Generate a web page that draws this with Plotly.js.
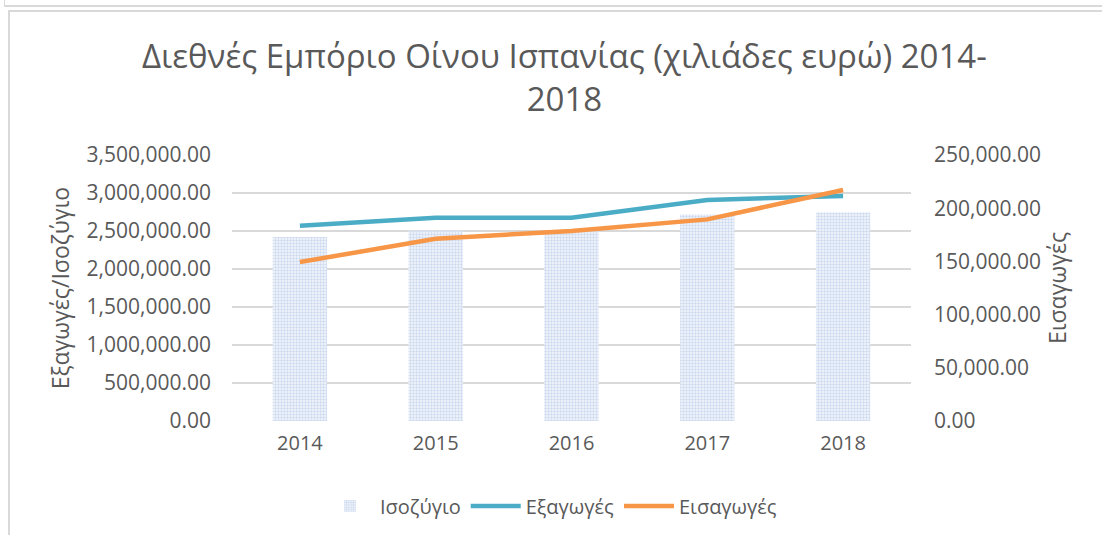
<!DOCTYPE html>
<html>
<head>
<meta charset="utf-8">
<script src="https://cdn.plot.ly/plotly-3.0.1.min.js"></script>
<style>
html,body{margin:0;padding:0;background:#fff;}
#wrap{position:relative;width:1102px;height:535px;overflow:hidden;}
#chart{position:absolute;left:0;top:0;width:1102px;height:535px;}
.b{position:absolute;pointer-events:none;}
</style>
</head>
<body>
<div id="wrap">
<div id="chart"></div>
<div class="b" style="left:4px;top:0px;width:1098px;height:5px;border-left:1px solid #d9d9d9;border-bottom:2px solid #d9d9d9;"></div>
<div class="b" style="left:8px;top:10px;width:1094px;height:525px;border-left:2px solid #d9d9d9;border-top:2px solid #d9d9d9;"></div>
</div>
<script>
const years = ['2014', '2015', '2016', '2017', '2018'];
const isozygio = [2421000, 2504000, 2496000, 2718000, 2744000];
const exagoges = [2570000, 2675000, 2675000, 2908000, 2961000];
const eisagoges = [149400, 171300, 178600, 189500, 217100];
const titleText = 'Διεθνές Εμπόριο Οίνου Ισπανίας (χιλιάδες ευρώ) 2014-<br>2018';

const FONT = 'Open Sans, Calibri, sans-serif';
const TXT = '#595959';

const traces = [
  {
    type: 'bar', name: 'Ισοζύγιο', x: years, y: isozygio, yaxis: 'y',
    width: 0.4,
    marker: {
      color: '#ffffff',
      line: {width: 0},
      pattern: {shape: '.', fgcolor: '#ccdaf0', bgcolor: '#f6f8fc', size: 3, solidity: 0.5}
    }
  },
  {
    type: 'scatter', mode: 'lines', name: 'Εξαγωγές', x: years, y: exagoges, yaxis: 'y',
    line: {color: '#4bacc6', width: 4.5}
  },
  {
    type: 'scatter', mode: 'lines', name: 'Εισαγωγές', x: years, y: eisagoges, yaxis: 'y2',
    line: {color: '#f79646', width: 4.5}
  }
];

const layout = {
  width: 1102, height: 535,
  paper_bgcolor: 'rgba(0,0,0,0)', plot_bgcolor: '#ffffff',
  margin: {l: 232, r: 191, t: 155, b: 114},
  font: {family: FONT, color: TXT, size: 20},
  annotations: [{
    text: titleText, showarrow: false,
    xref: 'paper', yref: 'paper', x: (564 - 232) / 679, y: 1 + (155 - 77) / 266,
    xanchor: 'center', yanchor: 'middle', align: 'center',
    font: {family: FONT, size: 33, color: TXT}
  }],
  xaxis: {
    type: 'category', showgrid: false, zeroline: false, showline: false,
    ticks: '', tickfont: {size: 20, color: TXT}, ticklabelstandoff: 8
  },
  yaxis: {
    range: [0, 3500000], tickvals: [0,500000,1000000,1500000,2000000,2500000,3000000,3500000],
    tickformat: ',.2f', gridcolor: '#d9d9d9', gridwidth: 1.5, zeroline: false,
    showline: false, ticks: '', tickfont: {size: 21, color: TXT}, ticklabelstandoff: 20,
    title: {text: 'Εξαγωγές/Ισοζύγιο', font: {size: 23, color: TXT}, standoff: 10}
  },
  yaxis2: {
    overlaying: 'y', side: 'right', range: [0, 250000],
    tickvals: [0,50000,100000,150000,200000,250000],
    tickformat: ',.2f', showgrid: false, zeroline: false, showline: false, ticks: '',
    tickfont: {size: 21, color: TXT}, ticklabelstandoff: 22,
    title: {text: 'Εισαγωγές', font: {size: 23, color: TXT}, standoff: 8}
  },
  legend: {
    orientation: 'h', x: 0.5, xanchor: 'center', xref: 'container',
    y: 0.054, yanchor: 'middle', yref: 'container',
    font: {size: 20, color: TXT}, itemwidth: 50, tracegroupgap: 0,
    traceorder: 'normal'
  },
  showlegend: true,
  bargap: 0.6
};

Plotly.newPlot('chart', traces, layout, {displayModeBar: false, staticPlot: true});
</script>
</body>
</html>
